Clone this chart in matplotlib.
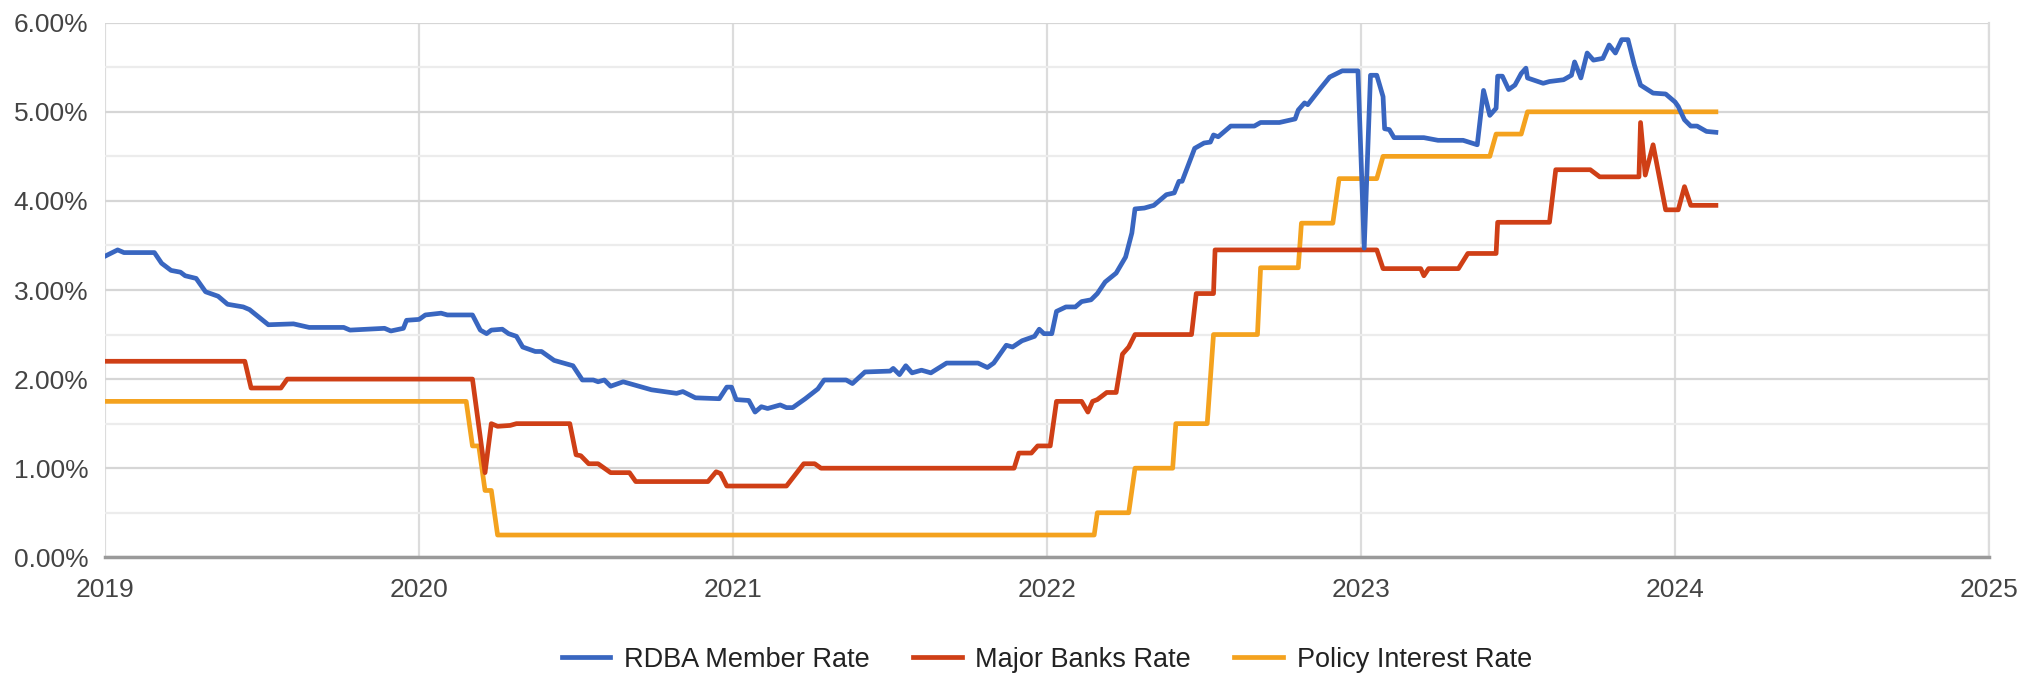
import matplotlib.pyplot as plt
from matplotlib.ticker import FuncFormatter, MultipleLocator

plt.rcParams['font.family'] = ['Liberation Sans', 'DejaVu Sans']

# Fechas en años decimales, tasas en %
rdba_x = [2019.0, 2019.04, 2019.06, 2019.157, 2019.18, 2019.21, 2019.24, 2019.255, 2019.29, 2019.32,
          2019.36, 2019.39, 2019.44, 2019.46, 2019.52, 2019.60, 2019.65, 2019.76, 2019.78, 2019.89,
          2019.91, 2019.95, 2019.96, 2020.00, 2020.02, 2020.07, 2020.09, 2020.17, 2020.195, 2020.215,
          2020.23, 2020.265, 2020.285, 2020.31, 2020.33, 2020.37, 2020.39, 2020.43, 2020.49, 2020.52,
          2020.555, 2020.57, 2020.59, 2020.61, 2020.65, 2020.74, 2020.82, 2020.84, 2020.88, 2020.956,
          2020.98, 2020.995, 2021.01, 2021.05, 2021.07, 2021.09, 2021.11, 2021.15, 2021.17, 2021.19,
          2021.23, 2021.27, 2021.29, 2021.36, 2021.38, 2021.42, 2021.50, 2021.51, 2021.53, 2021.55,
          2021.57, 2021.60, 2021.63, 2021.68, 2021.78, 2021.81, 2021.83, 2021.87, 2021.89, 2021.92,
          2021.96, 2021.975, 2021.99, 2022.015, 2022.03, 2022.06, 2022.09, 2022.11, 2022.14, 2022.16,
          2022.185, 2022.22, 2022.25, 2022.27, 2022.28, 2022.31, 2022.34, 2022.38, 2022.405, 2022.42,
          2022.43, 2022.47, 2022.50, 2022.52, 2022.53, 2022.545, 2022.585, 2022.66, 2022.68, 2022.74,
          2022.79, 2022.80, 2022.82, 2022.83, 2022.87, 2022.90, 2022.94, 2022.99, 2023.01, 2023.03,
          2023.05, 2023.07, 2023.075, 2023.09, 2023.105, 2023.20, 2023.245, 2023.325, 2023.37, 2023.39,
          2023.41, 2023.43, 2023.435, 2023.45, 2023.47, 2023.49, 2023.51, 2023.525, 2023.53, 2023.58,
          2023.60, 2023.645, 2023.67, 2023.68, 2023.70, 2023.72, 2023.74, 2023.77, 2023.79, 2023.81,
          2023.83, 2023.85, 2023.87, 2023.89, 2023.93, 2023.97, 2024.00, 2024.01, 2024.03, 2024.05,
          2024.07, 2024.10, 2024.13]
rdba_y = [3.38, 3.45, 3.42, 3.42, 3.30, 3.22, 3.20, 3.16, 3.13, 2.98,
          2.93, 2.84, 2.81, 2.78, 2.61, 2.62, 2.58, 2.58, 2.55, 2.57,
          2.54, 2.57, 2.66, 2.67, 2.72, 2.74, 2.72, 2.72, 2.55, 2.51,
          2.55, 2.56, 2.51, 2.48, 2.36, 2.31, 2.31, 2.21, 2.15, 1.99,
          1.99, 1.97, 1.99, 1.92, 1.97, 1.88, 1.84, 1.86, 1.79, 1.78,
          1.91, 1.91, 1.77, 1.76, 1.63, 1.69, 1.67, 1.71, 1.68, 1.68,
          1.78, 1.89, 1.99, 1.99, 1.95, 2.08, 2.09, 2.12, 2.05, 2.15,
          2.07, 2.10, 2.07, 2.18, 2.18, 2.13, 2.18, 2.38, 2.36, 2.43,
          2.48, 2.56, 2.51, 2.51, 2.76, 2.81, 2.81, 2.87, 2.89, 2.96,
          3.09, 3.19, 3.37, 3.64, 3.91, 3.92, 3.95, 4.07, 4.09, 4.22,
          4.22, 4.59, 4.65, 4.66, 4.74, 4.72, 4.84, 4.84, 4.88, 4.88,
          4.92, 5.02, 5.10, 5.08, 5.26, 5.39, 5.46, 5.46, 3.47, 5.41,
          5.41, 5.17, 4.81, 4.80, 4.71, 4.71, 4.68, 4.68, 4.63, 5.24,
          4.96, 5.04, 5.40, 5.40, 5.25, 5.30, 5.43, 5.49, 5.38, 5.32,
          5.34, 5.36, 5.41, 5.56, 5.38, 5.66, 5.58, 5.60, 5.75, 5.66,
          5.81, 5.81, 5.53, 5.30, 5.21, 5.20, 5.11, 5.06, 4.91, 4.84,
          4.84, 4.78, 4.77]

banks_x = [2019.0, 2019.445, 2019.465, 2019.56, 2019.58, 2020.17, 2020.21, 2020.23, 2020.25, 2020.29,
           2020.31, 2020.48, 2020.50, 2020.515, 2020.54, 2020.57, 2020.61, 2020.67, 2020.69, 2020.92,
           2020.946, 2020.96, 2020.98, 2021.17, 2021.225, 2021.26, 2021.28, 2021.895, 2021.91, 2021.95,
           2021.97, 2022.01, 2022.03, 2022.11, 2022.13, 2022.145, 2022.16, 2022.19, 2022.22, 2022.24,
           2022.26, 2022.28, 2022.46, 2022.475, 2022.53, 2022.535, 2023.05, 2023.07, 2023.19, 2023.20,
           2023.215, 2023.31, 2023.34, 2023.43, 2023.435, 2023.60, 2023.62, 2023.73, 2023.76, 2023.885,
           2023.89, 2023.905, 2023.93, 2023.97, 2024.01, 2024.03, 2024.05, 2024.13]
banks_y = [2.20, 2.20, 1.90, 1.90, 2.00, 2.00, 0.95, 1.50, 1.47, 1.48,
           1.50, 1.50, 1.15, 1.14, 1.05, 1.05, 0.95, 0.95, 0.85, 0.85,
           0.96, 0.94, 0.80, 0.80, 1.05, 1.05, 1.00, 1.00, 1.17, 1.17,
           1.25, 1.25, 1.75, 1.75, 1.63, 1.75, 1.77, 1.85, 1.85, 2.28,
           2.36, 2.50, 2.50, 2.96, 2.96, 3.45, 3.45, 3.24, 3.24, 3.16,
           3.24, 3.24, 3.41, 3.41, 3.76, 3.76, 4.35, 4.35, 4.27, 4.27,
           4.88, 4.29, 4.63, 3.90, 3.90, 4.16, 3.95, 3.95]

policy_x = [2019.0, 2020.15, 2020.17, 2020.19, 2020.21, 2020.23, 2020.25, 2022.15, 2022.16, 2022.26,
            2022.28, 2022.40, 2022.41, 2022.51, 2022.53, 2022.67, 2022.68, 2022.80, 2022.81, 2022.91,
            2022.93, 2023.05, 2023.07, 2023.41, 2023.43, 2023.51, 2023.53, 2024.13]
policy_y = [1.75, 1.75, 1.25, 1.25, 0.75, 0.75, 0.25, 0.25, 0.50, 0.50,
            1.00, 1.00, 1.50, 1.50, 2.50, 2.50, 3.25, 3.25, 3.75, 3.75,
            4.25, 4.25, 4.50, 4.50, 4.75, 4.75, 5.00, 5.00]

years = [2019, 2020, 2021, 2022, 2023, 2024, 2025]

fig = plt.figure(figsize=(20.21, 6.76), dpi=100)
ax = fig.add_axes([0.052, 0.1756, 0.9322, 0.7908])

ax.plot(rdba_x, rdba_y, color='#3966c0', lw=3.4, label='RDBA Member Rate', zorder=5)
ax.plot(banks_x, banks_y, color='#cf3f16', lw=3.4, label='Major Banks Rate', zorder=4)
ax.plot(policy_x, policy_y, color='#f4a21e', lw=3.4, label='Policy Interest Rate', zorder=3)

ax.set_xlim(2019, 2025)
ax.set_ylim(0, 6)
ax.set_xticks(years)
ax.set_xticklabels([str(y) for y in years])
ax.yaxis.set_major_locator(MultipleLocator(1))
ax.yaxis.set_minor_locator(MultipleLocator(0.5))
ax.yaxis.set_major_formatter(FuncFormatter(lambda v, p: '%.2f%%' % v))

ax.grid(axis='y', which='major', color='#d6d6d6', lw=1.6)
ax.grid(axis='y', which='minor', color='#ececec', lw=1.6)
ax.grid(axis='x', which='major', color='#dcdcdc', lw=1.6)
ax.set_axisbelow(True)

for s in ['top', 'left']:
    ax.spines[s].set_visible(False)
ax.spines['right'].set_color('#dcdcdc')
ax.spines['right'].set_linewidth(1.6)
ax.spines['bottom'].set_color('#9a9a9a')
ax.spines['bottom'].set_linewidth(2.5)

ax.tick_params(axis='both', which='both', length=0, labelsize=19, labelcolor='#444444')
ax.tick_params(axis='x', pad=15)
ax.tick_params(axis='y', pad=12)

fig.legend(loc='center', bbox_to_anchor=(0.518, 0.024), ncol=3, frameon=False,
           fontsize=19.5, handlelength=1.8, handletextpad=0.5, columnspacing=1.6,
           labelcolor='#222222')

plt.savefig('out.png', dpi=100)
